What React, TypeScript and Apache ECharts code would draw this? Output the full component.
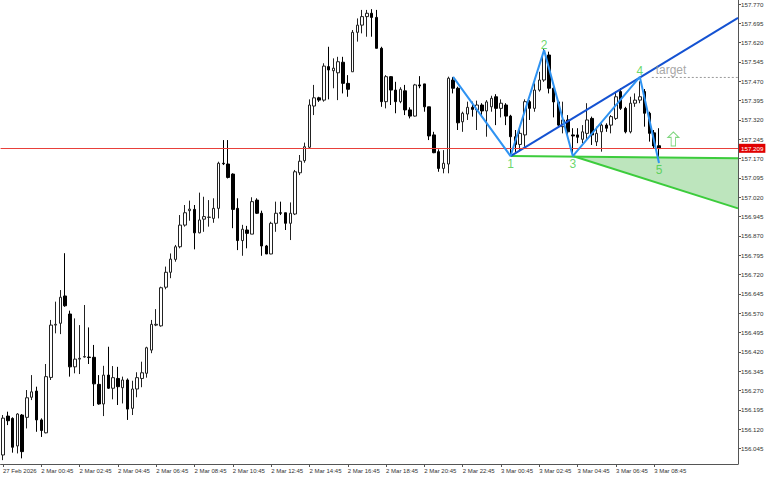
import React, { useEffect, useRef } from "react";
import * as echarts from "echarts";

// ---- Data (M15 candles) ----
const opens = [
  156.020, 156.171, 156.162, 156.055, 156.175, 156.166, 156.244, 156.268, 156.156, 156.106,
  156.321, 156.524, 156.531, 156.637, 156.567, 156.362, 156.392, 156.400, 156.400, 156.399,
  156.294, 156.218, 156.330, 156.279, 156.317, 156.281, 156.311, 156.201, 156.276, 156.317,
  156.337, 156.427, 156.524, 156.521, 156.671, 156.729, 156.779, 156.828, 156.912, 156.968,
  156.973, 156.882, 156.935, 156.942, 156.938, 156.977, 157.152, 157.149, 157.110, 156.977,
  156.852, 156.893, 156.877, 157.009, 156.958, 156.831, 156.800, 156.919, 156.960, 156.960,
  156.919, 156.955, 157.115, 157.162, 157.214, 157.374, 157.406, 157.397, 157.527, 157.511,
  157.503, 157.544, 157.462, 157.507, 157.660, 157.688, 157.721, 157.734, 157.718, 157.598,
  157.391, 157.488, 157.436, 157.391, 157.433, 157.359, 157.335, 157.456, 157.460, 157.371,
  157.262, 157.197, 157.132, 157.149, 157.475, 157.443, 157.313, 157.343, 157.369, 157.359,
  157.378, 157.355, 157.371, 157.410, 157.365, 157.378, 157.335, 157.255, 157.225, 157.262,
  157.391, 157.365, 157.436, 157.475, 157.572, 157.443, 157.390, 157.294, 157.320, 157.262,
  157.262, 157.245, 157.268, 157.326, 157.235, 157.274, 157.300, 157.300, 157.326, 157.430,
  157.365, 157.274, 157.385, 157.397, 157.430, 157.346, 157.270, 157.220,
];
const closes = [
  156.163, 156.153, 156.050, 156.179, 156.033, 156.242, 156.265, 156.156, 156.115, 156.324,
  156.524, 156.527, 156.632, 156.599, 156.362, 156.392, 156.395, 156.402, 156.398, 156.296,
  156.218, 156.330, 156.279, 156.320, 156.285, 156.311, 156.198, 156.276, 156.320, 156.339,
  156.436, 156.527, 156.527, 156.669, 156.729, 156.780, 156.828, 156.912, 156.960, 156.974,
  156.882, 156.932, 156.945, 156.943, 156.977, 157.152, 157.150, 157.097, 156.973, 156.852,
  156.896, 156.880, 157.003, 156.958, 156.831, 156.800, 156.919, 156.958, 156.958, 156.919,
  156.958, 157.119, 157.160, 157.216, 157.378, 157.406, 157.397, 157.529, 157.514, 157.521,
  157.546, 157.462, 157.439, 157.660, 157.688, 157.721, 157.734, 157.718, 157.598, 157.391,
  157.488, 157.436, 157.391, 157.439, 157.359, 157.335, 157.456, 157.452, 157.371, 157.258,
  157.193, 157.132, 157.152, 157.482, 157.443, 157.309, 157.346, 157.369, 157.361, 157.378,
  157.355, 157.390, 157.404, 157.365, 157.385, 157.335, 157.255, 157.225, 157.268, 157.391,
  157.365, 157.436, 157.475, 157.578, 157.443, 157.390, 157.300, 157.320, 157.274, 157.258,
  157.253, 157.274, 157.320, 157.262, 157.268, 157.300, 157.288, 157.333, 157.410, 157.365,
  157.274, 157.385, 157.397, 157.410, 157.346, 157.268, 157.219, 157.209,
];
const highs = [
  156.175, 156.188, 156.166, 156.182, 156.179, 156.272, 156.330, 156.285, 156.162, 156.373,
  156.544, 156.615, 156.660, 156.803, 156.580, 156.550, 156.524, 156.602, 156.515, 156.447,
  156.330, 156.366, 156.440, 156.365, 156.362, 156.324, 156.317, 156.308, 156.341, 156.382,
  156.440, 156.544, 156.586, 156.673, 156.751, 156.802, 156.835, 156.951, 156.990, 157.007,
  156.990, 157.038, 157.022, 157.009, 157.016, 157.158, 157.242, 157.242, 157.113, 157.016,
  156.913, 156.909, 157.020, 157.016, 156.968, 156.835, 156.925, 157.003, 157.003, 156.960,
  157.000, 157.126, 157.184, 157.232, 157.400, 157.456, 157.410, 157.540, 157.604, 157.559,
  157.565, 157.565, 157.494, 157.669, 157.714, 157.747, 157.747, 157.750, 157.747, 157.604,
  157.494, 157.490, 157.468, 157.447, 157.456, 157.369, 157.460, 157.490, 157.460, 157.371,
  157.274, 157.206, 157.203, 157.488, 157.487, 157.449, 157.352, 157.391, 157.391, 157.395,
  157.385, 157.397, 157.414, 157.420, 157.400, 157.385, 157.340, 157.281, 157.288, 157.400,
  157.397, 157.462, 157.507, 157.595, 157.585, 157.455, 157.395, 157.391, 157.339, 157.288,
  157.288, 157.300, 157.385, 157.333, 157.294, 157.307, 157.307, 157.339, 157.430, 157.443,
  157.371, 157.410, 157.423, 157.470, 157.440, 157.352, 157.281, 157.288,
];
const lows = [
  156.000, 156.136, 156.029, 156.026, 156.007, 156.123, 156.233, 156.110, 156.090, 156.104,
  156.311, 156.492, 156.489, 156.595, 156.324, 156.337, 156.334, 156.398, 156.373, 156.210,
  156.215, 156.171, 156.276, 156.236, 156.214, 156.220, 156.156, 156.175, 156.244, 156.283,
  156.320, 156.415, 156.520, 156.518, 156.663, 156.706, 156.770, 156.822, 156.906, 156.929,
  156.818, 156.880, 156.886, 156.906, 156.921, 156.938, 157.145, 157.093, 156.900, 156.815,
  156.793, 156.822, 156.877, 156.955, 156.793, 156.800, 156.799, 156.886, 156.951, 156.893,
  156.854, 156.951, 157.106, 157.154, 157.210, 157.339, 157.390, 157.391, 157.400, 157.443,
  157.397, 157.423, 157.410, 157.507, 157.624, 157.656, 157.643, 157.643, 157.598, 157.371,
  157.365, 157.378, 157.346, 157.385, 157.339, 157.326, 157.333, 157.443, 157.352, 157.242,
  157.191, 157.119, 157.113, 157.113, 157.423, 157.281, 157.274, 157.320, 157.333, 157.281,
  157.333, 157.255, 157.352, 157.300, 157.330, 157.300, 157.180, 157.196, 157.200, 157.216,
  157.320, 157.352, 157.430, 157.468, 157.423, 157.330, 157.294, 157.268, 157.255, 157.178,
  157.230, 157.230, 157.242, 157.223, 157.219, 157.197, 157.274, 157.268, 157.320, 157.359,
  157.268, 157.268, 157.371, 157.385, 157.294, 157.236, 157.210, 157.171,
];

const xTickLabels = [
  "27 Feb 2026", "2 Mar 00:45", "2 Mar 02:45", "2 Mar 04:45", "2 Mar 06:45", "2 Mar 08:45",
  "2 Mar 10:45", "2 Mar 12:45", "2 Mar 14:45", "2 Mar 16:45", "2 Mar 18:45", "2 Mar 20:45",
  "2 Mar 22:45", "3 Mar 00:45", "3 Mar 02:45", "3 Mar 04:45", "3 Mar 06:45", "3 Mar 08:45",
];
const yTickLabels = [
  "156.045", "156.120", "156.195", "156.270", "156.345", "156.420", "156.495", "156.570",
  "156.645", "156.720", "156.795", "156.870", "156.945", "157.020", "157.095", "157.170",
  "157.245", "157.320", "157.395", "157.470", "157.545", "157.620", "157.695", "157.770",
];

// Pattern points (bar index, price)
const waveX = [94, 106, 113, 119, 133, 137];
const waveY = [157.487, 157.180, 157.591, 157.180, 157.487, 157.153];
const waveNames = ["", "1", "2", "3", "4", "5"];
const trendX = [106, 153.5];
const trendY = [157.180, 157.716];
const greenTopX = [106, 153.5];
const greenTopY = [157.180, 157.171];
const greenBotX = [119, 153.5];
const greenBotY = [157.180, 156.977];
const targetX = [135.5, 153.5];
const targetPrice = 157.485;
const targetLabelX = 136.3;
const arrowPoint = [140, 157.246];
const bidPrice = 157.209;

const N_CAT = 154;
const Y_MIN = 155.985;
const Y_MAX = 157.7855;
const TICK_STEP = 0.075;

const pad = (n: number) => String(n).padStart(2, "0");
const categories = Array.from({ length: N_CAT }, (_, i) => {
  if (i < 5) {
    const m = 22 * 60 + 45 + 15 * i;
    return `27 Feb ${pad(Math.floor(m / 60))}:${pad(m % 60)}`;
  }
  const m = 15 * (i - 5);
  const day = 2 + Math.floor(m / 1440);
  const mm = m % 1440;
  return `${day} Mar ${pad(Math.floor(mm / 60))}:${pad(mm % 60)}`;
});

const FONT = "'Liberation Sans', Arial, sans-serif";
const GREEN_TXT = "#44cc44";
const HIDDEN = "rgba(0,0,0,0)";

function buildOption() {
  const candleData = opens.map((o, i) => [o, closes[i], lows[i], highs[i]]);
  const zig = waveX.map((x, i) => [x, waveY[i]]);
  const labelData = waveX
    .map((x, i) => ({ i, x }))
    .filter((d) => waveNames[d.i] !== "")
    .map((d) => {
      const below = d.i % 2 === 1;
      return {
        value: [d.x, waveY[d.i]],
        label: {
          show: true,
          formatter: waveNames[d.i],
          position: below ? "bottom" : "top",
          distance: below ? 1 : -1,
          color: GREEN_TXT,
          fontSize: 12,
          fontFamily: FONT,
        },
      };
    });
  const fillPts = [
    [greenBotX[0], greenBotY[0]],
    [greenTopX[1], greenTopY[1]],
    [greenBotX[1], greenBotY[1]],
  ];

  return {
    animation: false,
    backgroundColor: "#ffffff",
    textStyle: { fontFamily: FONT },
    grid: [
      { left: 0, right: 30, top: 0, bottom: 16 },
      { left: 0, right: 30, top: 4, height: (yTickLabels.length - 1) * TICK_STEP * 257.7 },
    ],
    xAxis: [
      {
        type: "category",
        gridIndex: 0,
        data: categories,
        boundaryGap: true,
        axisLine: { show: true, onZero: false, lineStyle: { color: "#555", width: 1 } },
        axisTick: {
          show: true,
          alignWithLabel: true,
          length: 3,
          interval: (i: number) => i % 8 === 0 && i / 8 < xTickLabels.length,
          lineStyle: { color: "#555" },
        },
        axisLabel: {
          show: true,
          interval: (i: number) => i % 8 === 0 && i / 8 < xTickLabels.length,
          formatter: (_v: string, i: number) => (i % 8 === 0 ? xTickLabels[i / 8] ?? "" : ""),
          align: "left",
          fontSize: 6,
          color: "#333",
          margin: 4,
          fontFamily: FONT,
        },
        splitLine: { show: false },
      },
      { type: "value", gridIndex: 0, min: -0.5, max: N_CAT - 0.5, show: false },
      { type: "value", gridIndex: 1, min: 0, max: 1, show: false },
    ],
    yAxis: [
      {
        type: "value",
        gridIndex: 0,
        position: "right",
        min: Y_MIN,
        max: Y_MAX,
        axisLine: { show: true, onZero: false, lineStyle: { color: "#555", width: 1 } },
        axisTick: { show: false },
        axisLabel: { show: false },
        splitLine: { show: false },
      },
      {
        type: "value",
        gridIndex: 1,
        position: "right",
        min: 0,
        max: (yTickLabels.length - 1) * TICK_STEP,
        interval: TICK_STEP,
        axisLine: { show: false, onZero: false },
        axisTick: { show: true, length: 3, lineStyle: { color: "#555" } },
        axisLabel: {
          show: true,
          margin: 3,
          fontSize: 6.2,
          color: "#333",
          fontFamily: FONT,
          formatter: (v: number) => yTickLabels[Math.round(v / TICK_STEP)] ?? "",
        },
        splitLine: { show: false },
      },
    ],
    series: [
      {
        type: "custom",
        name: "zone",
        xAxisIndex: 1,
        yAxisIndex: 0,
        silent: true,
        z: 1,
        data: [[fillPts[0][0], fillPts[0][1]]],
        renderItem: (_p: any, api: any) => ({
          type: "polygon",
          shape: { points: fillPts.map((p) => api.coord(p)) },
          style: { fill: "#bde5bd", stroke: "none" },
        }),
      },
      {
        type: "candlestick",
        name: "price",
        xAxisIndex: 0,
        yAxisIndex: 0,
        data: candleData,
        barWidth: 3,
        z: 2,
        itemStyle: {
          color: "#ffffff",
          color0: "#000000",
          borderColor: "#222222",
          borderColor0: "#000000",
          borderWidth: 1,
        },
        markLine: {
          silent: true,
          symbol: ["none", "none"],
          animation: false,
          lineStyle: { color: "#e8403a", width: 1, type: "solid" },
          label: {
            show: true,
            position: "end",
            distance: 1,
            formatter: bidPrice.toFixed(3),
            backgroundColor: "#e00000",
            color: "#ffffff",
            fontSize: 6.2,
            fontFamily: FONT,
            padding: [2, 2, 1, 2],
          },
          data: [{ yAxis: bidPrice }],
        },
      },
      {
        type: "line",
        name: "greenTop",
        xAxisIndex: 1,
        yAxisIndex: 0,
        data: greenTopX.map((x, i) => [x, greenTopY[i]]),
        showSymbol: false,
        z: 3,
        lineStyle: { color: "#3ccc3c", width: 2 },
        silent: true,
      },
      {
        type: "line",
        name: "greenBot",
        xAxisIndex: 1,
        yAxisIndex: 0,
        data: greenBotX.map((x, i) => [x, greenBotY[i]]),
        showSymbol: false,
        z: 3,
        lineStyle: { color: "#3ccc3c", width: 2 },
        silent: true,
      },
      {
        type: "line",
        name: "target",
        xAxisIndex: 1,
        yAxisIndex: 0,
        data: targetX.map((x) => [x, targetPrice]),
        showSymbol: false,
        z: 3,
        lineStyle: { color: "#9a9a9a", width: 1, type: [2, 2] },
        silent: true,
      },
      {
        type: "line",
        name: "trend",
        xAxisIndex: 1,
        yAxisIndex: 0,
        data: trendX.map((x, i) => [x, trendY[i]]),
        showSymbol: false,
        z: 4,
        lineStyle: { color: "#1452d2", width: 2 },
        silent: true,
      },
      {
        type: "line",
        name: "wave",
        xAxisIndex: 1,
        yAxisIndex: 0,
        data: zig,
        showSymbol: false,
        z: 5,
        lineStyle: { color: "#2f93f2", width: 2 },
        silent: true,
      },
      {
        type: "scatter",
        name: "waveLabels",
        xAxisIndex: 1,
        yAxisIndex: 0,
        symbolSize: 1,
        itemStyle: { color: HIDDEN },
        z: 6,
        silent: true,
        data: labelData,
      },
      {
        type: "scatter",
        name: "targetLabel",
        xAxisIndex: 1,
        yAxisIndex: 0,
        symbolSize: 1,
        itemStyle: { color: HIDDEN },
        z: 6,
        silent: true,
        label: {
          show: true,
          position: "top",
          align: "left",
          distance: 1,
          formatter: "target",
          color: "#909090",
          fontSize: 12,
          fontFamily: FONT,
        },
        data: [[targetLabelX, targetPrice]],
      },
      {
        type: "scatter",
        name: "arrow",
        xAxisIndex: 1,
        yAxisIndex: 0,
        symbol: "path://M5,0 L10,5 L7,5 L7,13 L3,13 L3,5 L0,5 Z",
        symbolSize: [11, 14],
        itemStyle: { color: "#ffffff", borderColor: "#5fcc5f", borderWidth: 1 },
        z: 6,
        silent: true,
        data: [arrowPoint],
      },
    ],
  };
}

export default function App() {
  const ref = useRef<HTMLDivElement>(null);
  useEffect(() => {
    document.body.style.margin = "0";
    if (!ref.current) return;
    const chart = echarts.init(ref.current, null, { renderer: "svg" });
    chart.setOption(buildOption() as any);
    return () => chart.dispose();
  }, []);
  return (
    <div
      ref={ref}
      style={{ position: "fixed", left: 0, top: 0, width: 768, height: 480, background: "#fff" }}
    />
  );
}
